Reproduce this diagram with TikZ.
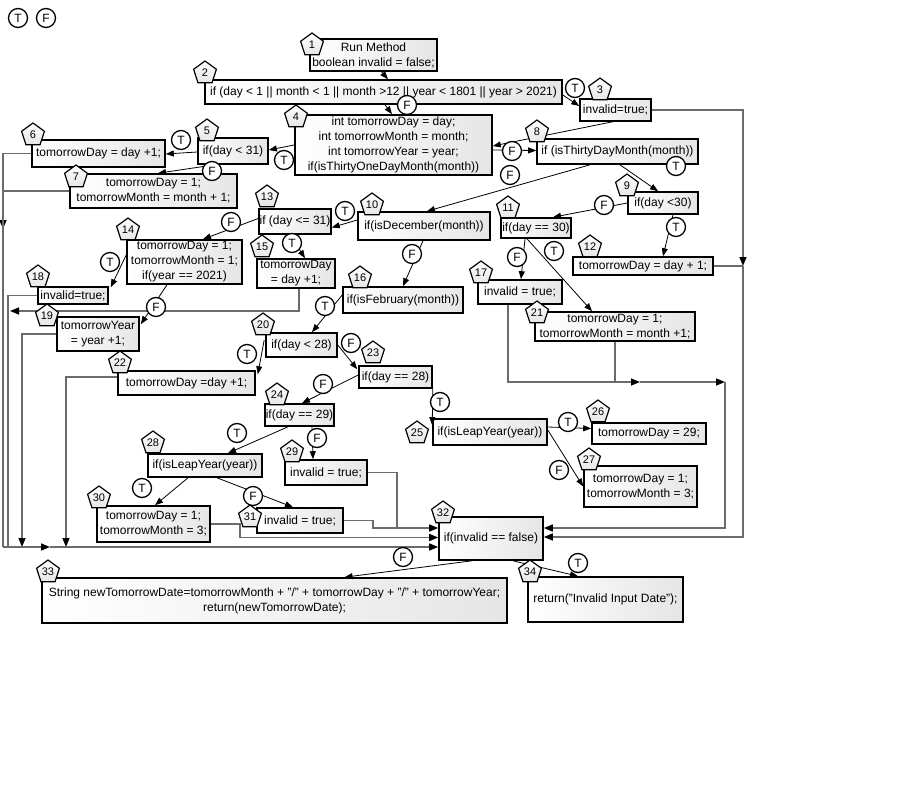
\documentclass[tikz,border=0pt]{standalone}
\usepackage{fontspec}
\setmainfont{Liberation Sans}
\usetikzlibrary{shapes.geometric,arrows.meta,calc}
\newcommand\bx[6]{\node[box,minimum width=#4pt,minimum height=#5pt] (#1) at (#2,#3) {#6};}
\begin{document}
\begin{tikzpicture}[x=1pt,y=-1pt,
 box/.style={draw=black,line width=1.6pt,left color=white,right color=black!10,inner sep=0pt,align=center,font=\fontsize{12}{15}\selectfont},
 pent/.style={regular polygon,regular polygon sides=5,draw=black,line width=1.2pt,top color=white,bottom color=black!10,minimum size=24pt,inner sep=0pt,font=\fontsize{11}{12}\selectfont},
 lab/.style={circle,draw=black,line width=1.3pt,fill=white,minimum size=19pt,inner sep=0pt,font=\fontsize{12}{12}\selectfont},
 arr/.style={draw=black,line width=0.8pt,-{Triangle[length=8pt,width=6pt]}},
 route/.style={draw=black!58,line width=1.5pt},
 rarr/.style={route,-{Triangle[length=9pt,width=7pt,color=black]}},
]
\useasboundingbox (0,0) rectangle (900,800);
% boxes
\bx{n1}{373.5}{55}{127}{32}{Run Method\\boolean invalid = false;}
\bx{n2}{383.5}{92}{357}{24}{if (day < 1 || month < 1 || month >12 || year < 1801 || year > 2021)}
\bx{n3}{615.5}{110}{71}{22}{invalid=true;}
\bx{n4}{393.5}{145}{197}{60}{int tomorrowDay = day;\\int tomorrowMonth = month;\\int tomorrowYear = year;\\if(isThirtyOneDayMonth(month))}
\bx{n5}{233}{151}{70}{26}{if(day < 31)}
\bx{n6}{98.5}{153.5}{133}{27}{tomorrowDay = day +1;}
\bx{n7}{153.5}{191}{167}{34}{tomorrowDay = 1;\\tomorrowMonth = month + 1;}
\bx{n8}{617.5}{151.5}{161}{25}{if (isThirtyDayMonth(month))}
\bx{n9}{663}{203}{70}{22}{if(day <30)}
\bx{n10}{424}{226}{132}{28}{if(isDecember(month))}
\bx{n11}{536}{228}{70}{20}{if(day == 30)}
\bx{n12}{643}{266}{140}{18}{tomorrowDay = day + 1;}
\bx{n13}{295}{221.5}{72}{25}{if (day <= 31)}
\bx{n14}{184.5}{262}{115}{44}{tomorrowDay = 1;\\tomorrowMonth = 1;\\if(year == 2021)}
\bx{n15}{296}{273.5}{78}{29}{tomorrowDay\\= day +1;}
\bx{n16}{403}{300}{120}{26}{if(isFebruary(month))}
\bx{n17}{520}{292}{84}{24}{invalid = true;}
\bx{n18}{73}{295.5}{70}{17}{invalid=true;}
\bx{n19}{98}{334}{82}{34}{tomorrowYear\\= year +1;}
\bx{n20}{301.5}{345}{71}{24}{if(day < 28)}
\bx{n21}{615}{326.5}{160}{29}{tomorrowDay = 1;\\tomorrowMonth = month +1;}
\bx{n22}{186.5}{383}{137}{24}{tomorrowDay =day +1;}
\bx{n23}{395.5}{377}{73}{22}{if(day == 28)}
\bx{n24}{299.5}{415}{69}{22}{if(day == 29)}
\bx{n25}{490}{432}{114}{26}{if(isLeapYear(year))}
\bx{n26}{649}{433.5}{114}{21}{tomorrowDay = 29;}
\bx{n27}{640.5}{486.5}{113}{41}{tomorrowDay = 1;\\tomorrowMonth = 3;}
\bx{n28}{205}{465.5}{114}{23}{if(isLeapYear(year))}
\bx{n29}{326}{472.5}{82}{25}{invalid = true;}
\bx{n30}{153.5}{524}{113}{36}{tomorrowDay = 1;\\tomorrowMonth = 3;}
\bx{n31}{300}{520.5}{86}{25}{invalid = true;}
\bx{n32}{491}{538.5}{104}{43}{if(invalid == false)}
\bx{n33}{274.5}{600.5}{465}{45}{String newTomorrowDate=tomorrowMonth + "/" + tomorrowDay + "/" + tomorrowYear;\\return(newTomorrowDate);}
\bx{n34}{605.5}{599.5}{155}{45}{return("Invalid Input Date");}
% routing coordinates
\coordinate (La) at (3,229);
\coordinate (Lb) at (3,547);
\coordinate (Mb) at (8,547);
\coordinate (M15) at (10,311);
\coordinate (B19) at (22,547);
\coordinate (B22) at (66,547);
\coordinate (Bm) at (50,547);
\coordinate (J30) at (240,537.5);
\coordinate (J29) at (397,528);
\coordinate (J31) at (373,528);
\coordinate (J17) at (508,382);
\coordinate (A17) at (640,382);
\coordinate (J21) at (615,382);
\coordinate (R1) at (725,382);
\coordinate (R2) at (743,110);
\coordinate (R2a) at (743,266);
% routing lines
\draw[rarr] (n6.west) -| (La);
\draw[route] (n7.west) -| (La);
\draw[route] (La) -- (Lb);
\draw[route] (n18.west) -| (Mb);
\draw[rarr] ($(n15.south)+(3,0)$) |- (M15);
\draw[rarr] (n19.west) -| (B19);
\draw[rarr] ($(n22.west)+(0,-6)$) -| (B22);
\draw[rarr] (Lb) -- (Bm);
\draw[rarr] (Bm) -- ($(n32.west)+(0,8.5)$);
\draw[rarr] (n30.east) -| (J30) -- ($(n32.west)+(0,-1)$);
\draw[rarr] (n29.east) -| (J29) -- ($(n32.west)+(0,-10.5)$);
\draw[route] (n31.east) -| (J31) -- (J29);
\draw[rarr] ($(n17.south)+(-12,0)$) -- (J17) -- (A17);
\draw[route] (n21.south) -- (J21);
\draw[rarr] (A17) -- (R1);
\draw[rarr] (R1) |- ($(n32.east)+(0,-10.5)$);
\draw[rarr] (n3.east) -- (R2) -- (R2a);
\draw[route] (n12.east) -- (R2a);
\draw[rarr] (R2a) |- ($(n32.east)+(0,-1.5)$);
% diagonal connectors
\draw[arr] ($(n1.south)+(8,0)$) -- ($(n2.north)+(4.5,0)$);
\draw[arr] ($(n2.east)+(0,3)$) -- ($(n3.west)+(0,-4)$);
\draw[arr] ($(n2.south)+(1.5,0)$) -- ($(n4.north)+(-1.5,0)$);
\draw[arr] ($(n3.south)+(-3,0)$) -- ($(n4.east)+(0,1)$);
\draw[arr] ($(n4.east)+(0,5)$) -- ($(n8.west)+(0,-1)$);
\draw[arr] (n4.west) -- ($(n5.east)+(0,-1)$);
\draw[arr] ($(n5.west)+(0,1)$) -- ($(n6.east)+(0,0.5)$);
\draw[arr] ($(n5.south)+(-18,0)$) -- ($(n7.north)+(4.5,0)$);
\draw[arr] ($(n8.south)+(2.5,0)$) -- ($(n9.north)+(-5,0)$);
\draw[arr] ($(n8.south)+(-27.5,0)$) -- ($(n10.north)+(3,0)$);
\draw[arr] (n9.west) -- ($(n11.north)+(17,0)$);
\draw[arr] ($(n9.south)+(10,0)$) -- ($(n12.north)+(20,0)$);
\draw[arr] ($(n10.west)+(0,-6)$) -- ($(n13.east)+(0,6)$);
\draw[arr] ($(n13.west)+(0,-3)$) -- ($(n14.north)+(18.5,0)$);
\draw[arr] ($(n13.south)+(-5,0)$) -- ($(n15.north)+(9,0)$);
\draw[arr] ($(n10.south)+(-1,0)$) -- (n16.north);
\draw[arr] ($(n14.west)+(0,-7)$) -- ($(n18.north east)+(2,1)$);
\draw[arr] ($(n14.south)+(-17.5,0)$) -- ($(n19.north east)+(1,8)$);
\draw[arr] ($(n16.west)+(0,-5)$) -- ($(n20.north)+(10.5,0)$);
\draw[arr] ($(n20.west)+(-1,-5)$) -- ($(n22.north east)+(2,4)$);
\draw[arr] (n20.east) -- ($(n23.north west)+(-1,4)$);
\draw[arr] ($(n23.west)+(0,-2)$) -- ($(n24.north)+(2.5,0)$);
\draw[arr] (n23.south east) -- ($(n25.north west)+(0,7)$);
\draw[arr] ($(n24.south)+(-11.5,0)$) -- ($(n28.north)+(23,0)$);
\draw[arr] ($(n24.south)+(12.5,0)$) -- ($(n29.north)+(-13,0)$);
\draw[arr] ($(n28.south)+(-17,0)$) -- ($(n30.north)+(1.5,0)$);
\draw[arr] ($(n28.south)+(12,0)$) -- ($(n31.north)+(-7,0)$);
\draw[arr] ($(n25.east)+(0,-5)$) -- ($(n26.west)+(0,-5)$);
\draw[arr] ($(n25.east)+(0,-2)$) -- (n27.west);
\draw[arr] ($(n11.south)+(-11,0)$) -- ($(n17.north)+(1,0)$);
\draw[arr] ($(n11.south)+(-9,0)$) -- ($(n21.north)+(-23,0)$);
\draw[arr] ($(n32.south)+(-19,0)$) -- ($(n33.north)+(70,0)$);
\draw[arr] ($(n32.south)+(22,0)$) -- ($(n34.north)+(-27.5,0)$);
% pentagons
\node[pent] (p1) at (312,45) {1};
\node[pent] (p2) at (205,73) {2};
\node[pent] (p3) at (600,90) {3};
\node[pent] (p4) at (296,117) {4};
\node[pent] (p5) at (207,131) {5};
\node[pent] (p6) at (33,135) {6};
\node[pent] (p7) at (76,177) {7};
\node[pent] (p8) at (537,132) {8};
\node[pent] (p9) at (627,186) {9};
\node[pent] (p10) at (372,205) {10};
\node[pent] (p11) at (508,208) {11};
\node[pent] (p12) at (590,247) {12};
\node[pent] (p13) at (267,197) {13};
\node[pent] (p14) at (128,230) {14};
\node[pent] (p15) at (262,247) {15};
\node[pent] (p16) at (360,278) {16};
\node[pent] (p17) at (481,273) {17};
\node[pent] (p18) at (38,277) {18};
\node[pent] (p19) at (47,316) {19};
\node[pent] (p20) at (263,325) {20};
\node[pent] (p21) at (537,313) {21};
\node[pent] (p22) at (120,363) {22};
\node[pent] (p23) at (373,353) {23};
\node[pent] (p24) at (277,395) {24};
\node[pent] (p25) at (417,433) {25};
\node[pent] (p26) at (598,412) {26};
\node[pent] (p27) at (589,460) {27};
\node[pent] (p28) at (153,443) {28};
\node[pent] (p29) at (292,452) {29};
\node[pent] (p30) at (99,498) {30};
\node[pent] (p31) at (250,517) {31};
\node[pent] (p32) at (443,513) {32};
\node[pent] (p33) at (48,572) {33};
\node[pent] (p34) at (530,572) {34};
% T/F labels
\node[lab] (lT) at (18,18) {T};
\node[lab] (lF) at (46,18) {F};
\node[lab] (l23) at (575,88) {T};
\node[lab] (l24) at (407,105) {F};
\node[lab] (l45) at (284,160) {T};
\node[lab] (l56) at (181,140) {T};
\node[lab] (l57) at (212,171) {F};
\node[lab] (l48) at (512,151) {F};
\node[lab] (l810) at (510,175) {F};
\node[lab] (l89) at (676,166) {T};
\node[lab] (l911) at (604,205) {F};
\node[lab] (l912) at (676,227) {T};
\node[lab] (l1013) at (345,211) {T};
\node[lab] (l1314) at (231,222) {F};
\node[lab] (l1315) at (292,243) {T};
\node[lab] (l1016) at (412,254) {F};
\node[lab] (l1418) at (110,262) {T};
\node[lab] (l1419) at (156,307) {F};
\node[lab] (l1117) at (517,257) {F};
\node[lab] (l1121) at (554,251) {T};
\node[lab] (l1620) at (325,306) {T};
\node[lab] (l2022) at (247,354) {T};
\node[lab] (l2023) at (351,343) {F};
\node[lab] (l2324) at (323,384) {F};
\node[lab] (l2325) at (440,402) {T};
\node[lab] (l2428) at (237,433) {T};
\node[lab] (l2429) at (317,438) {F};
\node[lab] (l2830) at (142,488) {T};
\node[lab] (l2831) at (253,496) {F};
\node[lab] (l2526) at (568,422) {T};
\node[lab] (l2527) at (559,470) {F};
\node[lab] (l3233) at (403,557) {F};
\node[lab] (l3234) at (578,563) {T};
\end{tikzpicture}
\end{document}
